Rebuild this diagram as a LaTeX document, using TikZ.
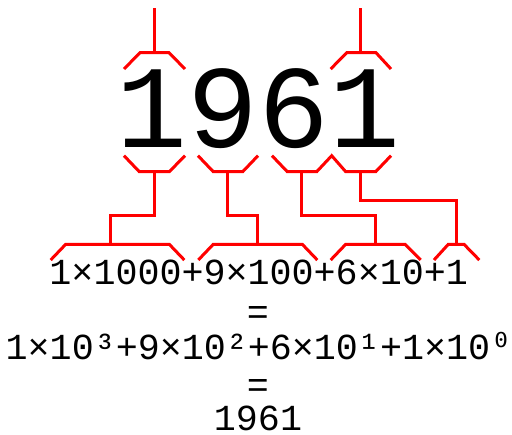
\documentclass[tikz,border=0pt]{standalone}
\usepackage{fontspec}
\setmonofont{Liberation Mono}
\newfontfamily\lmono{Liberation Mono}
\newfontfamily\dmono{DejaVu Sans Mono}
\begin{document}
\begin{tikzpicture}[x=1pt,y=-1pt,
  br/.style={draw=red,line width=3pt},
  big/.style={font=\lmono\fontsize{118}{118}\selectfont,inner sep=0pt,anchor=base},
  eq/.style={font=\lmono\fontsize{36.7}{36.7}\selectfont,inner sep=0pt,anchor=base}]
\useasboundingbox (0,0) rectangle (512,435);
\node[big] (num) at (258.5,148) {1961};
\node[eq] (l1) at (258.7,285) {1×1000+9×100+6×10+1};
\node[eq] (e1) at (258,325) {=};
\node[eq] (l2) at (259,360) {1×10³+9×10²+6×10¹+1×10{\dmono ⁰}};
\node[eq] (e2) at (258,398) {=};
\node[eq] (l3) at (258,431) {1961};
% top brackets
\draw[br] (124,69) -- (140,52.7) -- (169,52.7) -- (185,69);
\draw[br] (154,52.7) -- (154,8);
\draw[br] (330.7,69) -- (346.7,52.7) -- (376,52.7) -- (391,69);
\draw[br] (360.7,52.7) -- (360.7,8);
% bottom brackets under digits
\draw[br] (124,155.7) -- (139.3,171.7) -- (169.3,171.7) -- (185,155.7);
\draw[br] (198,155.7) -- (213.3,171.7) -- (242.7,171.7) -- (258,155.7);
\draw[br] (272,155.7) -- (287.3,171.7) -- (316.7,171.7) -- (331.7,155.7) -- (345.7,171.7) -- (375.7,171.7) -- (391,155.7);
% connectors
\draw[br] (154,171.7) -- (154,216) -- (110,216) -- (110,244.3);
\draw[br] (227.7,171.7) -- (227.7,216) -- (257.7,216) -- (257.7,244.3);
\draw[br] (301.7,171.7) -- (301.7,216) -- (375.7,216) -- (375.7,244.3);
\draw[br] (360,171.7) -- (360,201) -- (456,201) -- (456,244.3);
% lower brackets
\draw[br] (50.7,260) -- (65.7,244.3) -- (169.3,244.3) -- (184.3,260);
\draw[br] (198.3,260) -- (213.3,244.3) -- (302.3,244.3) -- (317.3,260);
\draw[br] (330.7,260) -- (345.7,244.3) -- (405,244.3) -- (420.7,260);
\draw[br] (434,260) -- (448.3,244.3) -- (464,244.3) -- (479.3,260);
\end{tikzpicture}
\end{document}
